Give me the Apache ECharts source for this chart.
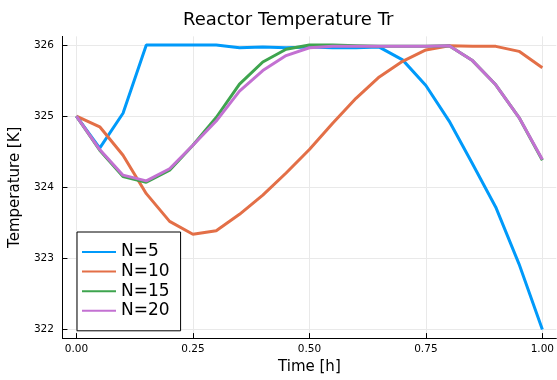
<!DOCTYPE html>
<html>
<head>
<meta charset="utf-8">
<script src="https://cdn.jsdelivr.net/npm/echarts@6/dist/echarts.min.js"></script>
<style>html,body{margin:0;padding:0;background:#fff}#c{width:557px;height:380px}</style>
</head>
<body>
<div id="c"></div>
<script>
const time = [0, 0.05, 0.1, 0.15, 0.2, 0.25, 0.3, 0.35, 0.4, 0.45, 0.5, 0.55, 0.6, 0.65, 0.7, 0.75, 0.8, 0.85, 0.9, 0.95, 1.0];
const n5  = [325.0, 324.55, 325.04, 326.0, 326.0, 326.0, 326.0, 325.96, 325.97, 325.96, 325.97, 325.96, 325.96, 325.97, 325.79, 325.43, 324.93, 324.33, 323.72, 322.92, 322.0];
const n10 = [325.0, 324.85, 324.45, 323.91, 323.52, 323.34, 323.39, 323.62, 323.89, 324.2, 324.53, 324.9, 325.25, 325.55, 325.77, 325.93, 325.99, 325.98, 325.98, 325.91, 325.68];
const n15 = [325.0, 324.52, 324.15, 324.07, 324.24, 324.59, 324.98, 325.45, 325.76, 325.94, 326.0, 326.0, 325.99, 325.98, 325.98, 325.98, 325.99, 325.78, 325.44, 324.98, 324.38];
const n20 = [325.0, 324.53, 324.17, 324.09, 324.26, 324.59, 324.93, 325.35, 325.64, 325.85, 325.96, 325.98, 325.98, 325.98, 325.98, 325.98, 325.99, 325.78, 325.44, 324.98, 324.39];
const seriesNames = ['N=5', 'N=10', 'N=15', 'N=20'];
const xTicks = [0, 0.25, 0.5, 0.75, 1.0];
const yTicks = [322, 323, 324, 325, 326];
const colors = ['#009AFA', '#E36F47', '#3EA44E', '#C371D2'];

const allData = [n5, n10, n15, n20];
const chart = echarts.init(document.getElementById('c'), null, {renderer: 'canvas'});
const font = 'DejaVu Sans';
chart.setOption({
  animation: false,
  backgroundColor: '#fff',
  title: {
    text: 'Reactor Temperature Tr',
    left: 178, top: 6,
    textStyle: {fontFamily: font, fontSize: 18, fontWeight: 'normal', color: '#000'}
  },
  grid: {left: 61, right: -1, top: 36.4, bottom: 38.7, containLabel: false},
  legend: {
    orient: 'vertical',
    left: 77, top: 232,
    data: seriesNames.map(n => ({name: n, icon: 'rect'})),
    itemWidth: 34, itemHeight: 2, itemGap: 1.6,
    padding: [11, 11, 11, 5],
    borderColor: '#000', borderWidth: 1, backgroundColor: '#fff',
    textStyle: {fontFamily: font, fontSize: 17, color: '#000', lineHeight: 18}
  },
  xAxis: {
    type: 'value', min: -0.03, max: 1.03,
    name: 'Time [h]', nameLocation: 'middle', nameGap: 21,
    nameTextStyle: {fontFamily: font, fontSize: 15, color: '#000'},
    axisLine: {show: true, onZero: false, lineStyle: {color: '#000', width: 1}},
    axisTick: {show: true, inside: true, length: 5, customValues: xTicks, lineStyle: {color: '#000'}},
    axisLabel: {customValues: xTicks, margin: 6, fontFamily: font, fontSize: 10.5, color: '#000',
      formatter: v => v.toFixed(2)},
    splitLine: {show: true, lineStyle: {color: '#e9e9e9', width: 1}}
  },
  yAxis: {
    type: 'value', min: 321.88, max: 326.12,
    name: 'Temperature [K]', nameLocation: 'middle', nameGap: 33,
    nameTextStyle: {fontFamily: font, fontSize: 15, color: '#000'},
    axisLine: {show: true, onZero: false, lineStyle: {color: '#000', width: 1}},
    axisTick: {show: true, inside: true, length: 5, customValues: yTicks, lineStyle: {color: '#000'}},
    axisLabel: {customValues: yTicks, margin: 8.5, fontFamily: font, fontSize: 10.5, color: '#000',
      formatter: v => String(Math.round(v))},
    splitLine: {show: true, lineStyle: {color: '#e9e9e9', width: 1}}
  },
  series: seriesNames.map((n, i) => ({
    name: n, type: 'line',
    data: time.map((t, j) => [t, allData[i][j]]),
    showSymbol: false, symbol: 'none',
    lineStyle: {color: colors[i], width: 3},
    itemStyle: {color: colors[i]},
    z: 2 + i
  }))
});
</script>
</body>
</html>
